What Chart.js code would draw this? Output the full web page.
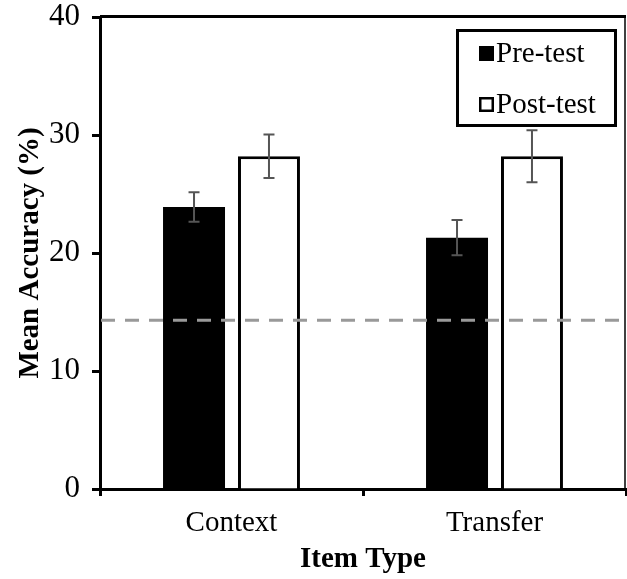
<!DOCTYPE html>
<html>
<head>
<meta charset="utf-8">
<script src="https://cdn.jsdelivr.net/npm/chart.js@4.4.0/dist/chart.umd.min.js"></script>
<style>
  html, body { margin: 0; padding: 0; background: #fff; }
  #wrap { width: 627px; height: 579px; }
</style>
</head>
<body>
<div id="wrap"><canvas id="chart"></canvas></div>
<script>
// Values
const categories = ["Context", "Transfer"]
const seriesNames = ["Pre-test", "Post-test"]
const preTest = [23.9, 21.3]
const postTest = [28.2, 28.2]
const preTestError = [1.25, 1.5]
const postTestError = [1.85, 2.2]
const chanceLevel = 14.3
const yTicks = [0, 10, 20, 30, 40]

const serif = '"Liberation Serif", "Times New Roman", serif'
Chart.defaults.font.family = serif
Chart.defaults.color = "#000"

// error bars drawn from each bar element's own position
const errorBars = {
  id: "errorBars",
  afterDatasetsDraw (chart) {
    const { ctx } = chart
    const y = chart.scales.y
    ctx.save()
    ctx.strokeStyle = "#555"
    ctx.lineWidth = 2
    chart.data.datasets.forEach((ds, i) => {
      chart.getDatasetMeta(i).data.forEach((bar, j) => {
        const v = ds.data[j]
        const e = ds.errors[j]
        const top = y.getPixelForValue(v + e)
        const bottom = y.getPixelForValue(v - e)
        ctx.beginPath()
        ctx.moveTo(bar.x, top); ctx.lineTo(bar.x, bottom)
        ctx.moveTo(bar.x - 5.5, top); ctx.lineTo(bar.x + 5.5, top)
        ctx.moveTo(bar.x - 5.5, bottom); ctx.lineTo(bar.x + 5.5, bottom)
        ctx.stroke()
      })
    })
    ctx.restore()
  }
}

// dashed chance line plus the top/right frame
const chanceLine = {
  id: "chanceLine",
  afterDatasetsDraw (chart) {
    const { ctx, chartArea } = chart
    const py = chart.scales.y.getPixelForValue(chanceLevel)
    ctx.save()
    ctx.strokeStyle = "#999"
    ctx.lineWidth = 3
    ctx.setLineDash([14, 10])
    ctx.beginPath()
    ctx.moveTo(chartArea.left + 1, py)
    ctx.lineTo(chartArea.right, py)
    ctx.stroke()
    ctx.setLineDash([])
    ctx.strokeStyle = "#000"
    ctx.lineWidth = 3
    ctx.beginPath()
    ctx.moveTo(chartArea.left, chartArea.top - 0.5)
    ctx.lineTo(chartArea.right, chartArea.top - 0.5)
    ctx.stroke()
    ctx.lineWidth = 1.5
    ctx.beginPath()
    ctx.moveTo(chartArea.right - 1, chartArea.top)
    ctx.lineTo(chartArea.right - 1, chartArea.bottom)
    ctx.stroke()
    ctx.restore()
  }
}

// boxed legend inside the top-right of the plot
const boxLegend = {
  id: "boxLegend",
  afterDraw (chart) {
    const { ctx, chartArea } = chart
    const w = 161, h = 98
    const x = chartArea.right - 9 - w
    const y = chartArea.top + 12
    ctx.save()
    ctx.fillStyle = "#fff"
    ctx.fillRect(x, y, w, h)
    ctx.strokeStyle = "#000"
    ctx.lineWidth = 3
    ctx.strokeRect(x + 1.5, y + 1.5, w - 3, h - 3)
    ctx.font = "29px " + serif
    ctx.textBaseline = "middle"
    ctx.textAlign = "left"
    chart.data.datasets.forEach((ds, i) => {
      const cy = y + 24 + i * 51
      if (ds.borderWidth > 0) {
        ctx.fillStyle = "#fff"
        ctx.fillRect(x + 23, cy - 7, 15, 15)
        ctx.lineWidth = 2.5
        ctx.strokeRect(x + 24.25, cy - 5.75, 12.5, 12.5)
      } else {
        ctx.fillStyle = "#000"
        ctx.fillRect(x + 23, cy - 7, 15, 15)
      }
      ctx.fillStyle = "#000"
      ctx.fillText(ds.label, x + 40, cy + 1)
    })
    ctx.restore()
  }
}

new Chart(document.getElementById("chart"), {
  type: "bar",
  data: {
    labels: categories,
    datasets: [
      {
        label: seriesNames[0],
        data: preTest,
        errors: preTestError,
        backgroundColor: "#000",
        borderColor: "#000",
        borderWidth: 0
      },
      {
        label: seriesNames[1],
        data: postTest,
        errors: postTestError,
        backgroundColor: "#fff",
        borderColor: "#000",
        borderWidth: 3
      }
    ]
  },
  options: {
    responsive: true,
    maintainAspectRatio: false,
    animation: false,
    datasets: { bar: { barPercentage: 0.827, categoryPercentage: 0.57 } },
    layout: { padding: { top: 17, right: 1, left: 0, bottom: 0 } },
    plugins: {
      legend: { display: false },
      tooltip: { enabled: false }
    },
    scales: {
      x: {
        afterFit: scale => {
          scale.height = 90
          scale.paddingLeft = 0
          scale.paddingRight = 0
        },
        border: { color: "#000", width: 3 },
        grid: {
          drawOnChartArea: false,
          tickLength: 7,
          tickColor: "#000",
          tickWidth: 3
        },
        ticks: { font: { size: 29 }, padding: 10, color: "#000" },
        title: {
          display: true,
          text: "Item Type",
          font: { size: 29, weight: "bold" },
          padding: { top: 0, bottom: 2 },
          color: "#000"
        }
      },
      y: {
        min: 0,
        max: 40,
        afterFit: scale => {
          scale.width = 100
          scale.paddingTop = 0
          scale.paddingBottom = 0
        },
        afterBuildTicks: scale => { scale.ticks = yTicks.map(v => ({ value: v })) },
        border: { color: "#000", width: 3 },
        grid: {
          drawOnChartArea: false,
          tickLength: 8,
          tickColor: "#000",
          tickWidth: 3
        },
        ticks: { font: { size: 31 }, padding: 12, color: "#000" },
        title: {
          display: true,
          text: "Mean Accuracy (%)",
          font: { size: 29, weight: "bold" },
          padding: { top: 13, bottom: 0 },
          color: "#000"
        }
      }
    }
  },
  plugins: [errorBars, chanceLine, boxLegend]
})
</script>
</body>
</html>
